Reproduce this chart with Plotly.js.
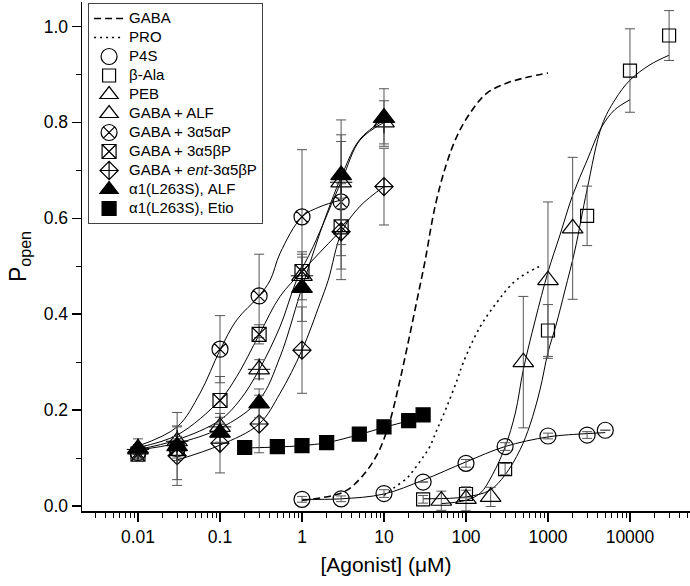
<!DOCTYPE html>
<html>
<head>
<meta charset="utf-8">
<script src="https://cdn.plot.ly/plotly-3.0.1.min.js"></script>
<style>html,body{margin:0;padding:0;background:#fff;}#chart{width:690px;height:586px;}</style>
</head>
<body>
<div id="chart"></div>
<script>
// ---------- data ----------
const xTickVals = [0.01, 0.1, 1, 10, 100, 1000, 10000];
const xTickText = ['0.01', '0.1', '1', '10', '100', '1000', '10000'];

// fitted curves
const gabaFitX = [1, 3.2, 5.3, 8.3, 11.7, 15.5, 20, 25.6, 31.6, 42, 57, 78, 113, 180, 317, 557, 1000];
const gabaFitY = [0.012, 0.029, 0.06, 0.108, 0.175, 0.259, 0.346, 0.434, 0.51, 0.625, 0.71, 0.772, 0.82, 0.861, 0.882, 0.894, 0.903];
const proFitX = [10, 13, 19, 23, 30, 36, 44, 58, 78, 92, 148, 239, 374, 555, 870];
const proFitY = [0.022, 0.037, 0.058, 0.075, 0.102, 0.123, 0.158, 0.206, 0.263, 0.298, 0.373, 0.425, 0.465, 0.486, 0.503];
const p4sFitX = [1, 3, 10, 30, 100, 300, 1000, 3000, 5000];
const p4sFitY = [0.014, 0.015, 0.025, 0.054, 0.092, 0.124, 0.144, 0.151, 0.153];
const balaFitX = [30, 100, 196, 300, 456, 603, 798, 1000, 1253, 1612, 2134, 2990, 4560, 6560, 10000, 17540, 30000];
const balaFitY = [0.015, 0.019, 0.033, 0.065, 0.117, 0.169, 0.242, 0.32, 0.377, 0.45, 0.534, 0.659, 0.794, 0.847, 0.888, 0.92, 0.94];
const pebFitX = [50, 100, 150, 210, 300, 400, 500, 700, 1000, 1400, 2000, 3000, 4500, 6500, 10000];
const pebFitY = [0.005, 0.012, 0.027, 0.065, 0.123, 0.194, 0.284, 0.388, 0.488, 0.565, 0.648, 0.721, 0.79, 0.826, 0.847];
const alfFitX = [0.01, 0.03, 0.1, 0.175, 0.3, 0.54, 0.86, 1.37, 3.07, 5.1, 10];
const alfFitY = [0.118, 0.138, 0.179, 0.221, 0.284, 0.374, 0.471, 0.541, 0.68, 0.763, 0.80];
const aapFitX = [0.01, 0.03, 0.057, 0.1, 0.16, 0.3, 0.41, 0.54, 1.0, 1.66, 3];
const aapFitY = [0.125, 0.165, 0.235, 0.325, 0.388, 0.438, 0.471, 0.527, 0.603, 0.624, 0.638];
const abpFitX = [0.01, 0.03, 0.1, 0.16, 0.3, 0.54, 1.0, 3];
const abpFitY = [0.122, 0.148, 0.221, 0.27, 0.357, 0.437, 0.489, 0.575];
const entFitX = [0.03, 0.1, 0.3, 0.54, 1.0, 1.66, 2.09, 3.07, 5.1, 10];
const entFitY = [0.096, 0.127, 0.171, 0.235, 0.325, 0.423, 0.471, 0.572, 0.625, 0.666];
const lalfFitX = [0.01, 0.03, 0.1, 0.3, 0.54, 0.95, 1.66, 3.07, 5.1, 10];
const lalfFitY = [0.117, 0.131, 0.162, 0.221, 0.311, 0.443, 0.57, 0.69, 0.765, 0.805];
const etioFitX = [0.2, 0.5, 1, 2, 5, 10, 20, 30];
const etioFitY = [0.121, 0.123, 0.126, 0.132, 0.149, 0.164, 0.178, 0.189];

// measured points
const p4sX = [1, 3, 10, 30, 100, 300, 1000, 3000, 5000];
const p4sY = [0.014, 0.015, 0.026, 0.05, 0.089, 0.124, 0.146, 0.148, 0.158];
const p4sE = [0.006, 0.006, 0.008, 0, 0.008, 0.008, 0.006, 0.007, 0];
const balaX = [30, 100, 300, 1000, 3000, 10000, 30000];
const balaY = [0.014, 0.025, 0.077, 0.366, 0.605, 0.908, 0.981];
const balaE = [0.008, 0.008, 0.012, 0.054, 0.062, 0.087, 0.052];
const pebX = [50, 100, 200, 500, 1000, 2000];
const pebY = [0.011, 0.015, 0.019, 0.30, 0.471, 0.579];
const pebE = [0.02, 0.025, 0.02, 0.137, 0.163, 0.148];
const alfX = [0.01, 0.03, 0.1, 0.3, 1, 3, 10];
const alfY = [0.118, 0.135, 0.165, 0.285, 0.48, 0.675, 0.80];
const alfE = [0.01, 0.03, 0.02, 0.02, 0.05, 0.13, 0.045];
const aapX = [0.01, 0.03, 0.1, 0.3, 1, 3];
const aapY = [0.112, 0.12, 0.327, 0.438, 0.603, 0.634];
const aapE = [0.01, 0.025, 0.07, 0.087, 0.14, 0.14];
const abpX = [0.01, 0.03, 0.1, 0.3, 1, 3];
const abpY = [0.108, 0.12, 0.22, 0.358, 0.489, 0.582];
const abpE = [0.01, 0.02, 0.05, 0.02, 0.03, 0.06];
const entX = [0.03, 0.1, 0.3, 1, 3, 10];
const entY = [0.105, 0.131, 0.171, 0.325, 0.572, 0.666];
const entE = [0.062, 0.062, 0.06, 0.09, 0.1, 0.08];
const lalfX = [0.01, 0.03, 0.1, 0.3, 1, 3, 10];
const lalfY = [0.12, 0.125, 0.153, 0.214, 0.455, 0.69, 0.81];
const lalfE = [0.02, 0.07, 0.02, 0.03, 0.07, 0.07, 0.06];
const etioX = [0.2, 0.5, 1, 2, 5, 10, 20, 30];
const etioY = [0.122, 0.124, 0.126, 0.132, 0.150, 0.165, 0.178, 0.190];

const seriesNames = ['GABA', 'PRO', 'P4S', 'β-Ala', 'PEB', 'GABA + ALF', 'GABA + 3α5αP',
  'GABA + 3α5βP', 'GABA + <i>ent</i>-3α5βP', 'α1(L263S), ALF', 'α1(L263S), Etio'];

// ---------- traces ----------
const FONT = 'Liberation Sans, Arial, sans-serif';
// legend rows are spaced by the legend font size; the visible text is set a bit larger
const legName = n => '<span style="font-size:15px">' + n + '</span>';
function fit(x, y) {
  return {x: x, y: y, type: 'scatter', mode: 'lines', showlegend: false, hoverinfo: 'skip',
    line: {color: '#000', width: 1, shape: 'spline', smoothing: 1}};
}
function errs(a) {
  return {type: 'data', array: a, visible: true, color: '#555', thickness: 1, width: 5};
}
function pts(name, x, y, e, symbol, size) {
  const t = {x: x, y: y, type: 'scatter', mode: 'markers', name: legName(name),
    marker: {symbol: symbol, size: size, color: '#000', line: {color: '#000', width: 1.2}}};
  if (e) t.error_y = errs(e);
  return t;
}

const traces = [
  fit(p4sFitX, p4sFitY), fit(balaFitX, balaFitY), fit(pebFitX, pebFitY),
  fit(alfFitX, alfFitY), fit(aapFitX, aapFitY), fit(abpFitX, abpFitY),
  fit(entFitX, entFitY), fit(lalfFitX, lalfFitY), fit(etioFitX, etioFitY),
  {x: gabaFitX, y: gabaFitY, type: 'scatter', mode: 'lines', name: legName(seriesNames[0]),
    line: {color: '#000', width: 1.6, dash: '7px,4px', shape: 'spline'}},
  {x: proFitX, y: proFitY, type: 'scatter', mode: 'lines', name: legName(seriesNames[1]),
    line: {color: '#000', width: 1.6, dash: '2px,4px', shape: 'spline'}},
  pts(seriesNames[2], p4sX, p4sY, p4sE, 'circle-open', 16),
  pts(seriesNames[3], balaX, balaY, balaE, 'square-open', 13),
  pts(seriesNames[4], pebX, pebY, pebE, 'triangle-up-open', 18),
  pts(seriesNames[5], alfX, alfY, alfE, 'triangle-up-open', 18),
  pts(seriesNames[6], aapX, aapY, aapE, 'circle-x-open', 16),
  pts(seriesNames[7], abpX, abpY, abpE, 'square-x-open', 14),
  pts(seriesNames[8], entX, entY, entE, 'diamond-cross-open', 14),
  pts(seriesNames[9], lalfX, lalfY, lalfE, 'triangle-up', 18),
  pts(seriesNames[10], etioX, etioY, null, 'square', 14),
  // cross through the GABA + ALF triangles
  {x: alfX, y: alfY, type: 'scatter', mode: 'markers', showlegend: false, hoverinfo: 'skip',
    marker: {symbol: 'cross-thin-open', size: 16, color: '#000', line: {color: '#000', width: 1}}}
];

const layout = {
  width: 690, height: 586,
  margin: {l: 82, r: 0, t: 2, b: 75},
  paper_bgcolor: '#fff', plot_bgcolor: '#fff',
  font: {family: FONT, color: '#000', size: 16},
  showlegend: true,
  legend: {x: 0.01, y: 0.998, xanchor: 'left', yanchor: 'top', bgcolor: '#fff',
    bordercolor: '#444', borderwidth: 1, font: {family: FONT, size: 12.2, color: '#000'},
    traceorder: 'normal', tracegroupgap: 0},
  xaxis: {
    type: 'log', range: [-2.683, 4.732], showgrid: false, zeroline: false,
    showline: true, linecolor: '#000', linewidth: 1.5,
    ticks: 'outside', ticklen: 9, tickwidth: 1.5, tickcolor: '#000',
    tickmode: 'array', tickvals: xTickVals, ticktext: xTickText,
    tickfont: {family: FONT, size: 17.5, color: '#000'},
    minor: {ticks: 'outside', ticklen: 5, tickwidth: 1, tickcolor: '#000', dtick: 'D1', showgrid: false},
    title: {text: '[Agonist] (μM)', font: {family: FONT, size: 21, color: '#000'}, standoff: 12}
  },
  yaxis: {
    range: [-0.0104, 1.0509], showgrid: false, zeroline: false,
    showline: true, linecolor: '#000', linewidth: 1.5,
    ticks: 'outside', ticklen: 9, tickwidth: 1.5, tickcolor: '#000',
    tick0: 0, dtick: 0.2, tickformat: '.1f',
    tickfont: {family: FONT, size: 17.5, color: '#000'},
    minor: {ticks: 'outside', ticklen: 5, tickwidth: 1, tickcolor: '#000', dtick: 0.1, showgrid: false},
    title: {text: 'P<sub>open</sub>', font: {family: FONT, size: 23, color: '#000'}, standoff: 10}
  }
};

Plotly.newPlot('chart', traces, layout, {displayModeBar: false, staticPlot: true});
</script>
</body>
</html>
